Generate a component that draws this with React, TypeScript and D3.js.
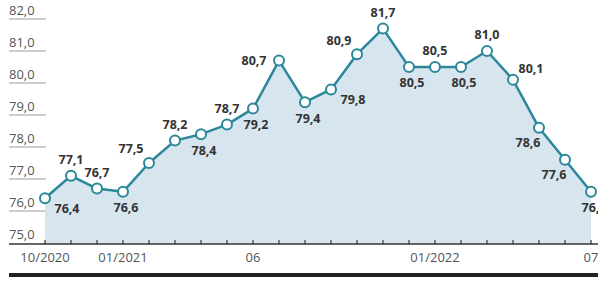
import { useEffect, useRef } from "react";
import * as d3 from "d3";

// months from 10/2020 to 07/2022
const months = [
  "2020-10", "2020-11", "2020-12",
  "2021-01", "2021-02", "2021-03", "2021-04", "2021-05", "2021-06",
  "2021-07", "2021-08", "2021-09", "2021-10", "2021-11", "2021-12",
  "2022-01", "2022-02", "2022-03", "2022-04", "2022-05", "2022-06", "2022-07",
];

const values = [
  76.4, 77.1, 76.7, 76.6, 77.5, 78.2, 78.4, 78.7, 79.2, 80.7, 79.4,
  79.8, 80.9, 81.7, 80.5, 80.5, 80.5, 81.0, 80.1, 78.6, 77.6, 76.6,
];

// where each value label sits relative to its point
const labelPlace = [
  "belowRight", "above", "above", "below", "aboveLeft", "above", "below",
  "above", "below", "left", "below", "belowRight", "aboveLeft", "above",
  "below", "above", "below", "above", "aboveRight", "belowLeft", "belowLeft", "below",
];

const xTickLabels: Record<string, string> = {
  "2020-10": "10/2020",
  "2021-01": "01/2021",
  "2021-06": "06",
  "2022-01": "01/2022",
  "2022-07": "07",
};

const yTicks = [75, 76, 77, 78, 79, 80, 81, 82];

const fmt = (n: number) => n.toFixed(1).replace(".", ",");

export default function App() {
  const svgRef = useRef<SVGSVGElement | null>(null);

  useEffect(() => {
    if (!svgRef.current) return;
    const width = 598;
    const height = 282;
    const font = "'Open Sans', 'Noto Sans', sans-serif";
    const lineColor = "#2b8799";

    const svg = d3.select(svgRef.current);
    svg.selectAll("*").remove();
    svg.attr("width", width).attr("height", height);

    const x = d3.scalePoint<string>().domain(months).range([45, 591]);
    const y = d3.scaleLinear().domain([75, 82]).range([243, 19]);
    const baseY = 244;

    const data = months.map((m, i) => ({ m, v: values[i], place: labelPlace[i] }));

    // y labels with short underlines
    const yg = svg.append("g");
    yTicks.forEach(t => {
      if (t !== 75) {
        yg.append("line")
          .attr("x1", 9).attr("x2", 46)
          .attr("y1", y(t)).attr("y2", y(t))
          .attr("stroke", "#9a9a9a").attr("stroke-width", 1);
      }
      yg.append("text")
        .attr("x", 9).attr("y", y(t) - 4)
        .attr("font-family", font).attr("font-size", 13)
        .attr("fill", "#555")
        .text(fmt(t));
    });

    // area
    const area = d3.area<{ m: string; v: number }>()
      .x(d => x(d.m)!)
      .y0(baseY)
      .y1(d => y(d.v));
    svg.append("path").datum(data).attr("d", area).attr("fill", "#d7e5ef");

    // x axis line and ticks
    svg.append("line")
      .attr("x1", 9).attr("x2", width)
      .attr("y1", baseY).attr("y2", baseY)
      .attr("stroke", "#333").attr("stroke-width", 1.5);
    svg.append("g").selectAll("line")
      .data(months)
      .enter()
      .append("line")
      .attr("x1", d => x(d)!).attr("x2", d => x(d)!)
      .attr("y1", baseY - 4).attr("y2", baseY)
      .attr("stroke", "#333").attr("stroke-width", 1.2);
    svg.append("g").selectAll("text")
      .data(months.filter(m => xTickLabels[m]))
      .enter()
      .append("text")
      .attr("x", d => x(d)!)
      .attr("y", 262)
      .attr("text-anchor", "middle")
      .attr("font-family", font).attr("font-size", 13)
      .attr("fill", "#555")
      .text(d => xTickLabels[d]);

    // thick bottom bar
    svg.append("rect")
      .attr("x", 9).attr("y", 273)
      .attr("width", width - 9).attr("height", 4)
      .attr("fill", "#222");

    // line
    const line = d3.line<{ m: string; v: number }>()
      .x(d => x(d.m)!)
      .y(d => y(d.v));
    svg.append("path").datum(data).attr("d", line)
      .attr("fill", "none").attr("stroke", lineColor).attr("stroke-width", 2.5)
      .attr("stroke-linejoin", "round");

    svg.append("g").selectAll("circle")
      .data(data)
      .enter()
      .append("circle")
      .attr("cx", d => x(d.m)!)
      .attr("cy", d => y(d.v))
      .attr("r", 5)
      .attr("fill", "#fff")
      .attr("stroke", lineColor)
      .attr("stroke-width", 2);

    const offsets: Record<string, [number, number]> = {
      above: [0, -16],
      below: [3, 16],
      aboveLeft: [-18, -14],
      aboveRight: [18, -11],
      belowRight: [22, 10],
      belowLeft: [-11, 15],
      left: [-25, 0],
    };

    svg.append("g").selectAll("text")
      .data(data)
      .enter()
      .append("text")
      .attr("x", d => x(d.m)! + offsets[d.place][0])
      .attr("y", d => y(d.v) + offsets[d.place][1])
      .attr("dy", "0.35em")
      .attr("text-anchor", "middle")
      .attr("font-family", font).attr("font-size", 12.5)
      .attr("font-weight", 700)
      .attr("fill", "#333")
      .text(d => fmt(d.v));
  }, []);

  return (
    <svg
      ref={svgRef}
      style={{ position: "absolute", left: 0, top: 0, display: "block" }}
    />
  );
}
